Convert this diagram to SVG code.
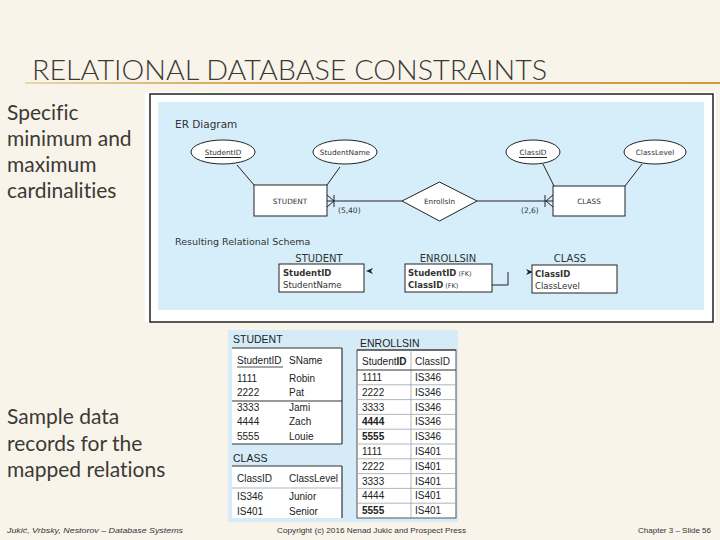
<svg xmlns="http://www.w3.org/2000/svg" width="720" height="540" viewBox="0 0 720 540">
<defs>
<linearGradient id="ul" x1="0" x2="1" y1="0" y2="0">
<stop offset="0" stop-color="#e8d6b0"/>
<stop offset="0.3" stop-color="#d9a85a"/>
<stop offset="1" stop-color="#d49a3c"/>
</linearGradient>
<style>
.slide{font-family:Lato,"Open Sans","Liberation Sans",sans-serif;fill:#3c3a36;font-variant-ligatures:none}
.er{font-family:"DejaVu Sans",Verdana,sans-serif;fill:#333}
.tb{font-family:"Liberation Sans",Arial,sans-serif;fill:#222;font-size:10px}
.foot{font-family:"Liberation Sans",Arial,sans-serif;fill:#333;font-size:8px}
.shape{fill:#fff;stroke:#222;stroke-width:1}
.ln{stroke:#222;stroke-width:1;fill:none}
.grid{stroke:#9aa4aa;stroke-width:0.8}
.dark{stroke:#333;stroke-width:1.2}
</style>
</defs>
<rect width="720" height="540" fill="#f8f4ea"/>

<g id="title">
<text class="slide" x="32" y="80" font-size="28" font-weight="300" textLength="515" lengthAdjust="spacingAndGlyphs" fill="#2e2e2e">RELATIONAL DATABASE CONSTRAINTS</text>
<rect x="25" y="82" width="695" height="2" fill="url(#ul)"/>
</g>

<g id="left-notes" class="slide" font-size="21">
<text x="7" y="120">Specific</text>
<text x="7" y="146">minimum and</text>
<text x="7" y="172">maximum</text>
<text x="7" y="198">cardinalities</text>
<text x="7" y="424">Sample data</text>
<text x="7" y="451">records for the</text>
<text x="7" y="477">mapped relations</text>
</g>

<g id="er-frame">
<rect x="145" y="92" width="571" height="230" fill="#fff"/>
<rect x="150" y="94" width="563" height="228" fill="none" stroke="#222" stroke-width="1.5"/>
<rect x="158" y="102" width="546" height="208" fill="#d6eef9"/>
<text class="er" x="175" y="128" font-size="10.5">ER Diagram</text>
<text class="er" x="175" y="245" font-size="9.5">Resulting Relational Schema</text>
</g>

<g id="connectors">
<line class="ln" x1="237" y1="165" x2="254" y2="185"/>
<line class="ln" x1="340" y1="167" x2="327" y2="185"/>
<line class="ln" x1="543" y1="164" x2="554" y2="186"/>
<line class="ln" x1="642" y1="164" x2="625" y2="186"/>
<line class="ln" x1="327" y1="201" x2="402" y2="201"/>
<path class="ln" d="M327,195 L334,201 L327,207 M334,195 V207"/>
<line class="ln" x1="477" y1="201" x2="553" y2="201"/>
<path class="ln" d="M553,195 L546,201 L553,207 M545,195 V207"/>
<text class="er" x="338" y="213" font-size="7.5">(5,40)</text>
<text class="er" x="521" y="213" font-size="7.5">(2,6)</text>
<path class="ln" d="M492,285 H508 V272"/>
<polygon points="366,271 373,268 371,271 373,274" fill="#222"/>
<polygon points="533,272 526,269 528,272 526,275" fill="#222"/>
</g>

<g id="attr-studentid">
<ellipse class="shape" cx="223" cy="152" rx="32" ry="12"/>
<text class="er" x="223" y="155" font-size="7.3" text-anchor="middle">StudentID</text>
<line class="ln" x1="205" y1="157.5" x2="241" y2="157.5" stroke-width="0.8"/>
</g>
<g id="attr-studentname">
<ellipse class="shape" cx="345" cy="152" rx="32" ry="12"/>
<text class="er" x="345" y="155" font-size="7.3" text-anchor="middle">StudentName</text>
</g>
<g id="attr-classid">
<ellipse class="shape" cx="533" cy="152" rx="27" ry="12"/>
<text class="er" x="533" y="155" font-size="7.3" text-anchor="middle">ClassID</text>
<line class="ln" x1="519" y1="157.5" x2="547" y2="157.5" stroke-width="0.8"/>
</g>
<g id="attr-classlevel">
<ellipse class="shape" cx="655" cy="152" rx="31" ry="12"/>
<text class="er" x="655" y="155" font-size="7.3" text-anchor="middle">ClassLevel</text>
</g>
<g id="entity-student">
<rect class="shape" x="254" y="185" width="73" height="31"/>
<text class="er" x="290" y="204" font-size="7.3" text-anchor="middle">STUDENT</text>
</g>
<g id="rel-enrollsin">
<polygon class="shape" points="402,201 439.5,182 477,201 439.5,221"/>
<text class="er" x="439.5" y="204" font-size="7.3" text-anchor="middle">EnrollsIn</text>
</g>
<g id="entity-class">
<rect class="shape" x="553" y="186" width="72" height="30"/>
<text class="er" x="589" y="204" font-size="7.3" text-anchor="middle">CLASS</text>
</g>

<g id="schema-student">
<text class="er" x="319" y="262" font-size="10" text-anchor="middle">STUDENT</text>
<rect class="shape" x="279" y="264" width="85" height="28"/>
<text class="er" x="283" y="276" font-size="8.5" font-weight="bold">StudentID</text>
<text class="er" x="283" y="288" font-size="8.5">StudentName</text>
</g>
<g id="schema-enrollsin">
<text class="er" x="448" y="262" font-size="10" text-anchor="middle">ENROLLSIN</text>
<rect class="shape" x="405" y="264" width="87" height="28"/>
<text class="er" x="408" y="276" font-size="8.5"><tspan font-weight="bold">StudentID</tspan><tspan font-size="6.5"> (FK)</tspan></text>
<text class="er" x="408" y="288" font-size="8.5"><tspan font-weight="bold">ClassID</tspan><tspan font-size="6.5"> (FK)</tspan></text>
</g>
<g id="schema-class">
<text class="er" x="570" y="262" font-size="10" text-anchor="middle">CLASS</text>
<rect class="shape" x="532" y="265" width="85" height="28"/>
<text class="er" x="535" y="277" font-size="8.5" font-weight="bold">ClassID</text>
<text class="er" x="535" y="289" font-size="8.5">ClassLevel</text>
</g>

<g id="sample-panel">
<rect x="228" y="330" width="230" height="192" fill="#d5ecf8"/>
</g>

<g id="table-student" class="tb">
<text x="233" y="343" font-size="10.5">STUDENT</text>
<rect x="232" y="348" width="110" height="96" fill="#fff"/>
<line class="dark" x1="232" y1="348" x2="342" y2="348"/>
<line class="dark" x1="342" y1="348" x2="342" y2="444"/>
<line class="dark" x1="232" y1="401" x2="342" y2="401"/>
<line class="dark" x1="232" y1="444" x2="342" y2="444"/>
<text x="237" y="364">StudentID</text>
<line x1="237" y1="367" x2="283" y2="367" stroke="#222" stroke-width="0.8"/>
<text x="289" y="364">SName</text>
<text x="237" y="382">1111</text><text x="289" y="382">Robin</text>
<text x="237" y="396">2222</text><text x="289" y="396">Pat</text>
<text x="237" y="411">3333</text><text x="289" y="411">Jami</text>
<text x="237" y="425">4444</text><text x="289" y="425">Zach</text>
<text x="237" y="440">5555</text><text x="289" y="440">Louie</text>
</g>

<g id="table-class" class="tb">
<text x="233" y="462" font-size="10.5">CLASS</text>
<rect x="232" y="466" width="110" height="52" fill="#fff"/>
<line class="dark" x1="232" y1="466" x2="342" y2="466"/>
<line class="dark" x1="342" y1="466" x2="342" y2="518"/>
<line class="grid" x1="232" y1="488" x2="342" y2="488"/>
<text x="237" y="482">ClassID</text>
<text x="289" y="482">ClassLevel</text>
<text x="237" y="500">IS346</text><text x="289" y="500">Junior</text>
<text x="237" y="515">IS401</text><text x="289" y="515">Senior</text>
</g>

<g id="table-enrollsin" class="tb">
<text x="360" y="347" font-size="10.5">ENROLLSIN</text>
<rect x="357" y="350" width="99" height="168" fill="#fff" stroke="#555" stroke-width="1"/>
<line class="dark" x1="357" y1="350" x2="456" y2="350"/>
<line class="grid" x1="411" y1="350" x2="411" y2="518"/>
<line class="dark" x1="357" y1="370" x2="456" y2="370"/>
<g class="grid">
<line x1="357" y1="384.8" x2="456" y2="384.8"/>
<line x1="357" y1="399.6" x2="456" y2="399.6"/>
<line x1="357" y1="414.4" x2="456" y2="414.4"/>
<line x1="357" y1="429.2" x2="456" y2="429.2"/>
<line x1="357" y1="444" x2="456" y2="444"/>
<line x1="357" y1="458.8" x2="456" y2="458.8"/>
<line x1="357" y1="473.6" x2="456" y2="473.6"/>
<line x1="357" y1="488.4" x2="456" y2="488.4"/>
<line x1="357" y1="503.2" x2="456" y2="503.2"/>
</g>
<text x="362" y="365">Student<tspan font-weight="bold">ID</tspan></text>
<text x="415" y="365">ClassID</text>
<text x="362" y="381">1111</text><text x="415" y="381">IS346</text>
<text x="362" y="396">2222</text><text x="415" y="396">IS346</text>
<text x="362" y="411">3333</text><text x="415" y="411">IS346</text>
<text x="362" y="425" font-weight="bold">4444</text><text x="415" y="425">IS346</text>
<text x="362" y="440" font-weight="bold">5555</text><text x="415" y="440">IS346</text>
<text x="362" y="455">1111</text><text x="415" y="455">IS401</text>
<text x="362" y="470">2222</text><text x="415" y="470">IS401</text>
<text x="362" y="485">3333</text><text x="415" y="485">IS401</text>
<text x="362" y="499">4444</text><text x="415" y="499">IS401</text>
<text x="362" y="514" font-weight="bold">5555</text><text x="415" y="514">IS401</text>
</g>

<g id="footer" class="foot">
<text x="7" y="533" font-style="italic" textLength="176" lengthAdjust="spacingAndGlyphs">Jukić, Vrbsky, Nestorov – Database Systems</text>
<text x="277" y="533" textLength="189" lengthAdjust="spacingAndGlyphs">Copyright (c) 2016 Nenad Jukic and Prospect Press</text>
<text x="711" y="533" text-anchor="end">Chapter 3 – Slide 56</text>
</g>
</svg>
